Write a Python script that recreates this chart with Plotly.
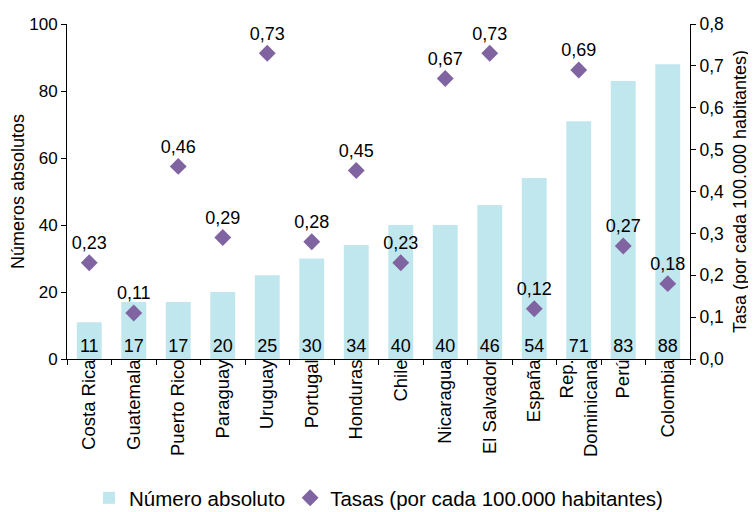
import plotly.graph_objects as go

categories = ["Costa Rica", "Guatemala", "Puerto Rico", "Paraguay", "Uruguay", "Portugal",
              "Honduras", "Chile", "Nicaragua", "El Salvador", "España", "Rep.<br>Dominicana",
              "Perú", "Colombia"]
absolutos = [11, 17, 17, 20, 25, 30, 34, 40, 40, 46, 54, 71, 83, 88]
tasas = [0.23, 0.11, 0.46, 0.29, 0.73, 0.28, 0.45, 0.23, 0.67, 0.73, 0.12, 0.69, 0.27, 0.18]

font = "Arial, Liberation Sans, sans-serif"

fig = go.Figure()
fig.add_trace(go.Bar(
    x=categories, y=absolutos, name="Número absoluto",
    marker=dict(color="#C0E6EE", line=dict(width=0)),
    text=[str(v) for v in absolutos], textposition="inside", insidetextanchor="start",
    textangle=0,
    textfont=dict(color="black", size=18, family=font), constraintext="none",
    width=0.56, yaxis="y",
))
fig.add_trace(go.Scatter(
    x=categories, y=tasas, name="Tasas (por cada 100.000 habitantes)",
    mode="markers+text", marker=dict(symbol="diamond", size=13, color="#8064A2"),
    text=[f"{v:.2f}".replace(".", ",") for v in tasas], textposition="top center",
    textfont=dict(color="black", size=18, family=font), yaxis="y2",
))

fig.update_layout(
    width=756, height=512,
    margin=dict(l=59, r=74, t=16, b=161),
    plot_bgcolor="white", paper_bgcolor="white",
    font=dict(family=font, color="black", size=18),
    separators=",.",
    showlegend=True,
    legend=dict(orientation="h", x=0.5, xanchor="center", yref="container", y=0.043,
                yanchor="middle", font=dict(size=20.5), traceorder="normal"),
    xaxis=dict(tickangle=-90, showline=True, linecolor="black", ticks="outside",
               range=[-0.5, len(categories) - 0.5],
               tickson="boundaries", ticklen=5, tickcolor="black", automargin=False,
               ticklabelstandoff=-8,
               tickfont=dict(size=18.5), showgrid=False),
    yaxis=dict(range=[0, 100], dtick=20, showline=True, linecolor="black", ticks="outside",
               ticklen=5, tickcolor="black", showgrid=False, zeroline=False, automargin=False,
               tickfont=dict(size=17),
               title=dict(text="Números absolutos", font=dict(size=18), standoff=10)),
    yaxis2=dict(range=[0, 0.8], dtick=0.1, tickformat=".1f", overlaying="y", side="right",
                showline=True, linecolor="black", ticks="outside", ticklen=5, automargin=False,
                tickcolor="black", showgrid=False, zeroline=False, tickfont=dict(size=17.5),
                title=dict(text="Tasa (por cada 100.000 habitantes)", font=dict(size=18), standoff=10)),
)

fig.write_html("out.html")
